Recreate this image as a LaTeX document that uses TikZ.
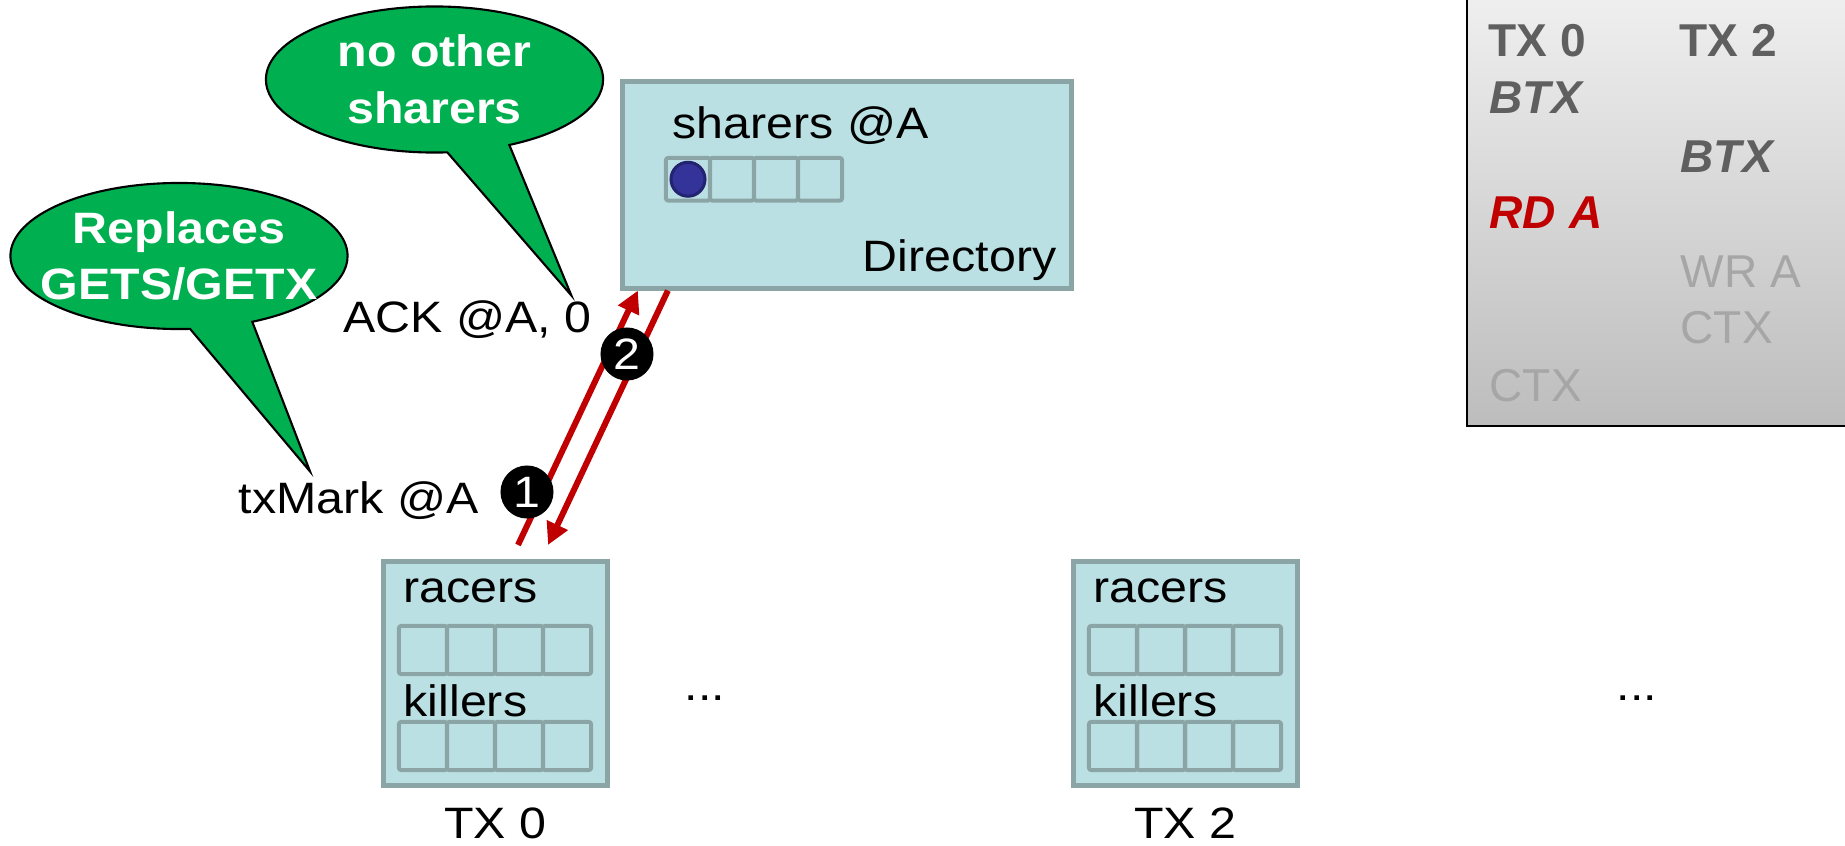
\documentclass[tikz,border=0pt]{standalone}
\usepackage{fontspec}
\setmainfont[FakeStretch=1.1]{Liberation Sans}
\newfontfamily\panelfont{Liberation Sans}
\usepackage{xcolor}
\usepackage{tikz}
\usetikzlibrary{arrows.meta,shapes.callouts}

\definecolor{boxfill}{HTML}{BBE0E3}
\definecolor{boxedge}{HTML}{8BA5A6}
\definecolor{bubgreen}{HTML}{00B050}
\definecolor{msgred}{HTML}{C00000}
\definecolor{dotblue}{HTML}{333399}
\definecolor{dotedge}{HTML}{232370}
\definecolor{evdark}{HTML}{5F5F5F}
\definecolor{evlight}{HTML}{A6A6A6}

\newcommand{\slidesize}{\fontsize{12.5pt}{16.2pt}\selectfont}
\newcommand{\panelsize}{\fontsize{13.1pt}{16.4pt}\selectfont}

\begin{document}
\begin{tikzpicture}[x=0.01cm, y=-0.01cm,
  txt/.style={inner sep=0pt, font=\slidesize},
  unit/.style={draw=boxedge, fill=boxfill, line width=0.05cm},
  cell/.style={draw=boxedge, line width=0.04cm, rounded corners=0.6pt, inner sep=0pt,
    minimum width=0.48cm, minimum height=0.48cm},
  bubble/.style={ellipse callout, fill=bubgreen, draw=black, line width=0.6pt,
    callout pointer arc=22, minimum width=3.37cm, minimum height=1.46cm, inner sep=0pt},
  bubtext/.style={inner sep=0pt, align=center, text=white, font=\slidesize\bfseries},
  msg/.style={-{Triangle[length=0.22cm, width=0.22cm]}, draw=msgred, line width=0.06cm},
  badge/.style={circle, fill=black, inner sep=0pt, minimum size=0.53cm, text=white,
    font=\fontsize{12.5pt}{14pt}\selectfont},
  ev/.style={inner sep=0pt, anchor=base west, font=\panelfont\panelsize}
]
\path[use as bounding box, fill=white] (0,0) rectangle (1845,845);

% directory
\node[unit, minimum width=4.48cm, minimum height=2.065cm] (dir) at (847,184.75) {};
\node[txt, anchor=base west] (dirsh) at (672,138) {sharers @A};
\foreach \i in {0,...,3}
  \node[cell, minimum width=0.44cm, minimum height=0.425cm] (dirc\i) at (688+44*\i,179.25) {};
\node[circle, fill=dotblue, draw=dotedge, line width=0.03cm, minimum size=0.34cm,
  inner sep=0pt] (dirbit) at (dirc0) {};
\node[txt, anchor=base east] (dirname) at (1057,271) {Directory};

% TX 0 and TX 2
\node[unit, minimum width=2.24cm, minimum height=2.24cm] (tx0) at (495.5,673.5) {};
\node[unit, minimum width=2.24cm, minimum height=2.24cm] (tx2) at (1185.5,673.5) {};
\foreach \t/\dx in {0/0, 2/690} {
  \node[txt, anchor=base west] (tx\t rac) at (403+\dx,602) {racers};
  \node[txt, anchor=base west] (tx\t kil) at (403+\dx,716) {killers};
  \foreach \i in {0,...,3} {
    \node[cell] (tx\t r\i) at (423+48*\i+\dx,650) {};
    \node[cell] (tx\t k\i) at (423+48*\i+\dx,746) {};
  }
  \node[txt, anchor=base] (tx\t name) at (495.5+\dx,838) {TX \t};
}
\node[txt, anchor=base] (dots0) at (705,700) {...};
\node[txt, anchor=base] (dots2) at (1637,700) {...};

% messages
\draw[msg] ([xshift=1.37cm, yshift=0.14cm]tx0.north west) -- ([xshift=0.175cm]dir.south west);
\draw[msg] ([xshift=0.475cm]dir.south west) -- ([xshift=1.67cm, yshift=0.14cm]tx0.north west);
\node[txt, anchor=base west] (mark) at (238,513) {txMark @A};
\node[txt, anchor=base west] (ack) at (343,332) {ACK @A, 0};
\node[badge] (step1) at (527,492) {1};
\node[badge] (step2) at (627,354) {2};

% callouts
\node[bubble, callout absolute pointer={([xshift=-0.21cm, yshift=0.04cm]ack.north east)},
  label={[bubtext]center:no other\\sharers}] (nosharers) at (434.5,79.5) {};
\node[bubble, callout absolute pointer={([xshift=0.72cm, yshift=0.09cm]mark.north west)},
  label={[bubtext]center:Replaces\\GETS/GETX}] (replaces) at (179,256) {};

% event panel
\node[draw=black, line width=0.02cm, top color=black!6, bottom color=black!26,
  minimum width=3.93cm, minimum height=4.36cm, inner sep=0pt] (legend) at (1663.5,208) {};
\node[ev, text=evdark] (evtx0) at (1488,56) {\bfseries TX 0};
\node[ev, text=evdark] (evtx2) at (1679,56) {\bfseries TX 2};
\node[ev, text=evdark] (evbtx0) at (1489,113) {\bfseries\itshape BTX};
\node[ev, text=evdark] (evbtx2) at (1680,172) {\bfseries\itshape BTX};
\node[ev, text=msgred] (evrd) at (1489,228) {\bfseries\itshape RD A};
\node[ev, text=evlight] (evwr) at (1680,287) {WR A};
\node[ev, text=evlight] (evctx2) at (1680,343) {CTX};
\node[ev, text=evlight] (evctx0) at (1489,401) {CTX};

\end{tikzpicture}
\end{document}
